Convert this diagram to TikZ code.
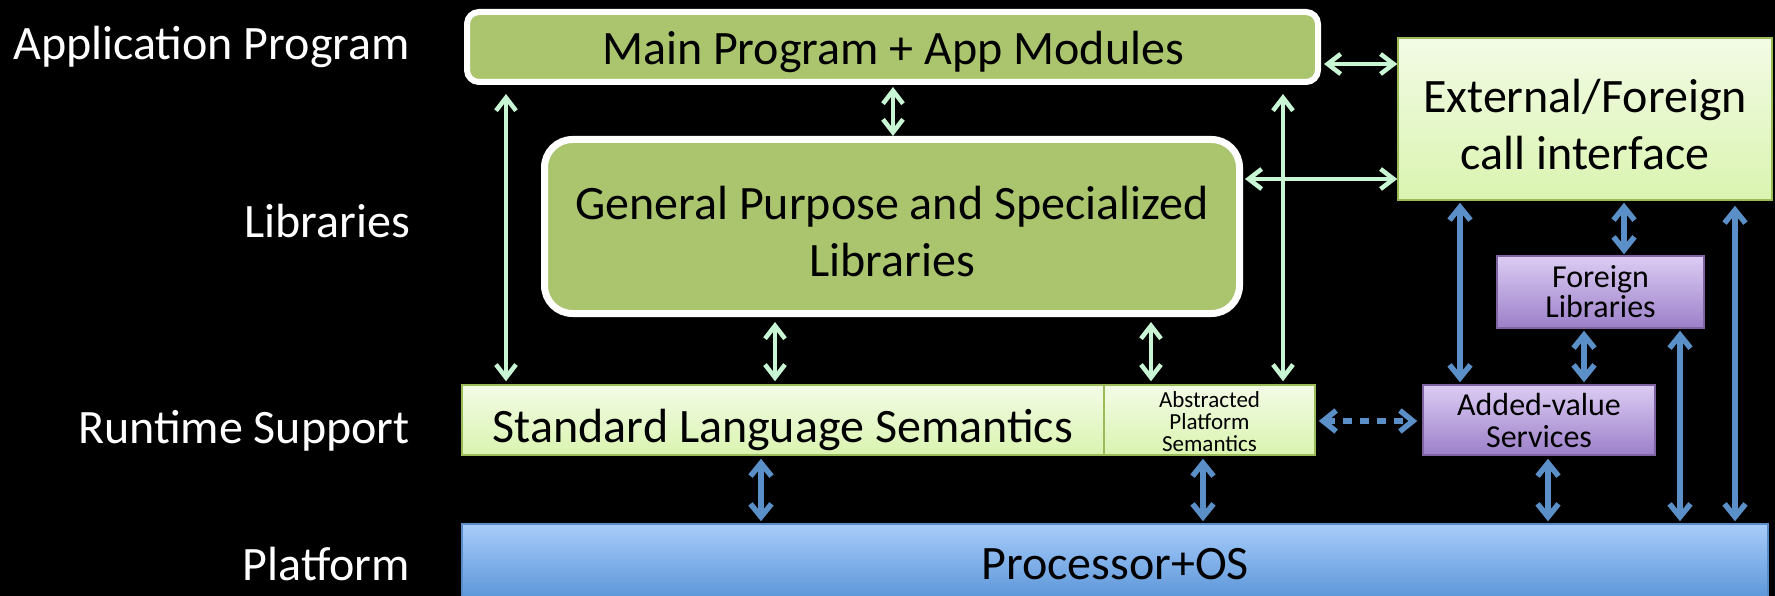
\documentclass[tikz,border=0pt]{standalone}
\usepackage{fontspec}
\setmainfont{Carlito}
\usetikzlibrary{arrows.meta}
\definecolor{garrow}{RGB}{200,246,212}
\definecolor{barrow}{RGB}{90,143,200}
\definecolor{olive}{RGB}{171,197,111}
\definecolor{ltop}{RGB}{243,251,230}
\definecolor{lbot}{RGB}{218,244,176}
\definecolor{lborder}{RGB}{155,187,89}
\definecolor{ptop}{RGB}{220,204,243}
\definecolor{pbot}{RGB}{156,128,201}
\definecolor{pborder}{RGB}{128,100,162}
\definecolor{btop}{RGB}{168,204,250}
\definecolor{bbot}{RGB}{86,146,214}
\definecolor{bborder}{RGB}{90,140,200}
\tikzset{
  big/.style={font=\fontsize{48}{57}\selectfont, align=center, text=black},
  lab/.style={font=\fontsize{48}{57}\selectfont, text=white, anchor=east, inner sep=0pt},
  olivebox/.style={draw=white, fill=olive, inner sep=0pt},
  lightbox/.style={draw=lborder, line width=1.5pt, top color=ltop, bottom color=lbot, inner sep=0pt},
  purplebox/.style={draw=pborder, line width=1.5pt, top color=ptop, bottom color=pbot, inner sep=0pt},
  txt/.style={inner sep=0pt, align=center, text=black},
  gar/.style={draw=garrow, line width=4.5pt, {Straight Barb[length=13pt,width=20pt]}-{Straight Barb[length=13pt,width=20pt]}},
  bar/.style={draw=barrow, line width=5.5pt, {Straight Barb[length=13pt,width=21pt]}-{Straight Barb[length=13pt,width=21pt]}},
}
\begin{document}
\begin{tikzpicture}[x=1pt,y=-1pt]
\useasboundingbox (0,0) rectangle (1775,596);
\fill[black] (0,0) rectangle (1775,596);
\clip (0,0) rectangle (1775,596);

% labels
\node[lab] (lapp) at (410,47) {Application Program};
\node[lab] (llib) at (410,221) {Libraries};
\node[lab] (lrt) at (410,431) {Runtime Support};
\node[lab] (lpl) at (410,564) {Platform};

% boxes
\node[olivebox, line width=6pt, rounded corners=12pt, minimum width=851pt, minimum height=70pt] (main) at (892.5,47) {};
\node[txt, big] (maint) at (893,52) {Main Program + App Modules};
\node[olivebox, line width=7pt, rounded corners=28pt, minimum width=695pt, minimum height=174pt] (gp) at (892,226.5) {};
\node[txt, big] (gpt) at (892,232) {General Purpose and Specialized\\Libraries};
\node[lightbox, minimum width=374pt, minimum height=162pt] (ext) at (1585,119) {};
\node[txt, big] (extt) at (1585,125) {External/Foreign\\call interface};
\node[lightbox, minimum width=642pt, minimum height=70pt] (sls) at (783,420) {};
\node[txt, big] (slst) at (783,430) {Standard Language Semantics};
\node[lightbox, minimum width=211pt, minimum height=70pt] (aps) at (1209.5,420) {};
\node[txt, font=\fontsize{23}{22}\selectfont] (apst) at (1209.5,422) {Abstracted\\Platform\\Semantics};
\node[purplebox, minimum width=232pt, minimum height=70pt] (av) at (1539,420) {};
\node[txt, font=\fontsize{32}{32}\selectfont] (avt) at (1539,421) {Added-value\\Services};
\node[purplebox, minimum width=207pt, minimum height=72pt] (fl) at (1600.5,292) {};
\node[txt, font=\fontsize{32}{30}\selectfont] (flt) at (1600.5,292) {Foreign\\Libraries};
\node[draw=bborder, line width=1.5pt, top color=btop, bottom color=bbot, inner sep=0pt, minimum width=1306pt, minimum height=80pt] (proc) at (1115,564) {};
\node[txt, big] (proct) at (1115,564) {Processor+OS};

% green connectors
\draw[gar, shorten <=3pt] (main.east |- 0,64) -- (ext.west |- 0,64);
\draw[gar, shorten <=2pt] (gp.east |- 0,179) -- (ext.west |- 0,179);
\draw[gar, shorten <=2pt] (main.south -| 893,0) -- (gp.north -| 893,0);
\draw[gar, shorten <=9pt, shorten >=3pt] (main.south -| 506,0) -- (sls.north -| 506,0);
\draw[gar, shorten <=9pt, shorten >=3pt] (main.south -| 1283,0) -- (aps.north -| 1283,0);
\draw[gar, shorten <=5pt, shorten >=3pt] (gp.south -| 775,0) -- (sls.north -| 775,0);
\draw[gar, shorten <=5pt, shorten >=3pt] (gp.south -| 1151,0) -- (aps.north -| 1151,0);

% blue connectors
\draw[bar, shorten <=3pt, shorten >=2pt] (sls.south -| 761,0) -- (proc.north -| 761,0);
\draw[bar, shorten <=3pt, shorten >=2pt] (aps.south -| 1203,0) -- (proc.north -| 1203,0);
\draw[bar, shorten <=3pt, shorten >=2pt] (av.south -| 1548,0) -- (proc.north -| 1548,0);
\draw[bar, shorten <=2pt, shorten >=2pt] (ext.south -| 1460,0) -- (av.north -| 1460,0);
\draw[bar, shorten <=2pt, shorten >=1pt] (ext.south -| 1624,0) -- (fl.north -| 1624,0);
\draw[bar, shorten <=2pt, shorten >=2pt] (fl.south -| 1584,0) -- (av.north -| 1584,0);
\draw[bar, shorten <=2pt, shorten >=2pt] (proc.north -| 1680,0) -- (fl.south -| 1680,0);
\draw[bar, shorten <=2pt, shorten >=5pt] (proc.north -| 1735,0) -- (ext.south -| 1735,0);
\draw[bar, dash pattern=on 9pt off 8pt, shorten <=3pt, shorten >=5pt] (aps.east |- 0,421) -- (av.west |- 0,421);
\end{tikzpicture}
\end{document}
